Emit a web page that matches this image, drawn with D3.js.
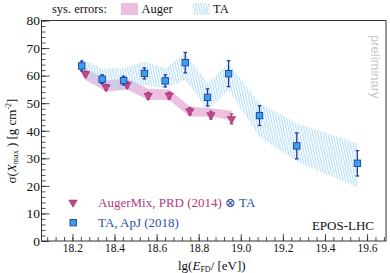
<!DOCTYPE html>
<html>
<head>
<meta charset="utf-8">
<script src="https://cdn.jsdelivr.net/npm/d3@7"></script>
<style>
  body { margin: 0; background: #fff; }
  text { font-family: "Liberation Serif", "DejaVu Serif", serif; }
</style>
</head>
<body>
<div id="chart"></div>
<script>
var width = 390,
  height = 273,
  plotLeft = 41.5,
  plotRight = 386,
  plotTop = 20.5,
  plotBottom = 241;

// TA, ApJ (2018)
var taLgE = [18.244, 18.341, 18.443, 18.542, 18.641, 18.736, 18.842, 18.942, 19.089, 19.266, 19.554];
var taSigma = [63.5, 58.7, 58.2, 60.8, 58.1, 64.7, 52.1, 60.7, 45.5, 34.5, 28.2];
var taStat = [1.8, 1.6, 1.6, 2.0, 2.2, 3.7, 3.1, 4.7, 3.6, 4.7, 4.6];
var taSysUp = [66.2, 62.5, 62.7, 65.1, 62.7, 68.1, 57.2, 64.5, 50.0, 42.7, 35.4];
var taSysLo = [60.3, 55.9, 54.6, 56.6, 55.4, 58.5, 47.5, 54.8, 37.8, 28.8, 19.5];

// AugerMix, PRD (2014) folded with TA
var augLgE = [18.262, 18.36, 18.46, 18.56, 18.66, 18.758, 18.858, 18.956];
var augSigma = [60.6, 55.8, 56.7, 52.7, 52.8, 47.1, 45.7, 44.3];
var augStat = [1.0, 1.0, 1.1, 1.2, 1.2, 1.3, 1.4, 1.8];
var augSysUp = [62.8, 58.3, 59.0, 55.2, 55.0, 48.8, 48.2, 47.3];
var augSysLo = [58.4, 54.2, 55.0, 51.2, 51.2, 45.1, 45.2, 43.8];

var xTicks = [18.2, 18.4, 18.6, 18.8, 19.0, 19.2, 19.4, 19.6];
var yTicks = [0, 10, 20, 30, 40, 50, 60, 70, 80];

var augColor = "#b23d7e",
  augFill = "#c4478d",
  taColor = "#1f3f96",
  taFill = "#39a0f0";

var svg = d3.select("#chart")
  .append("svg")
  .attr("width", width)
  .attr("height", height);

var defs = svg.append("defs");
var pat = defs.append("pattern")
  .attr("id", "hatch")
  .attr("patternUnits", "userSpaceOnUse")
  .attr("width", 2.5)
  .attr("height", 6)
  .attr("patternTransform", "rotate(-12)");
pat.append("line")
  .attr("x1", 0.6).attr("y1", 0)
  .attr("x2", 0.6).attr("y2", 6)
  .attr("stroke", "#abd9f8")
  .attr("stroke-width", 1);

var x = d3.scaleLinear().domain([18.053, 19.69]).range([plotLeft, plotRight]);
var y = d3.scaleLinear().domain([0, 80]).range([plotBottom, plotTop]);

// sys. bands
var augBand = augLgE.map(function (d, i) { return { x: d, hi: augSysUp[i], lo: augSysLo[i] }; });
var taBand = taLgE.map(function (d, i) { return { x: d, hi: taSysUp[i], lo: taSysLo[i] }; });

var area = d3.area()
  .x(function (d) { return x(d.x); })
  .y0(function (d) { return y(d.lo); })
  .y1(function (d) { return y(d.hi); });

svg.append("path")
  .datum(augBand)
  .attr("d", area)
  .attr("fill", "#edc0e1");

svg.append("path")
  .datum(taBand)
  .attr("d", area)
  .attr("fill", "url(#hatch)");

// axes
var xMinor = d3.range(18.08, 19.69, 0.04);
var yMinor = d3.range(0, 80.1, 2);

var g = svg.append("g");

g.append("g")
  .attr("transform", "translate(0," + plotBottom + ")")
  .call(d3.axisBottom(x).tickValues(xMinor).tickSize(-4).tickFormat(""))
  .call(function (s) { s.select(".domain").remove(); });

g.append("g")
  .attr("transform", "translate(0," + plotBottom + ")")
  .call(d3.axisBottom(x).tickValues(xTicks).tickSize(-7).tickPadding(3)
    .tickFormat(d3.format(".1f")))
  .call(function (s) {
    s.select(".domain").remove();
    s.selectAll("text").attr("font-size", "11.5px").attr("fill", "#111")
      .style("font-family", "Liberation Serif, serif");
  });

g.append("g")
  .attr("transform", "translate(" + plotLeft + ",0)")
  .call(d3.axisLeft(y).tickValues(yMinor).tickSize(-4).tickFormat(""))
  .call(function (s) { s.select(".domain").remove(); });

g.append("g")
  .attr("transform", "translate(" + plotLeft + ",0)")
  .call(d3.axisLeft(y).tickValues(yTicks).tickSize(-8).tickPadding(1.5))
  .call(function (s) {
    s.select(".domain").remove();
    s.selectAll("text").attr("font-size", "13.5px").attr("fill", "#111")
      .style("font-family", "Liberation Serif, serif");
  });

g.selectAll(".tick line").attr("stroke", "#222").attr("stroke-width", 0.8);

svg.append("rect")
  .attr("x", plotLeft).attr("y", plotTop)
  .attr("width", plotRight - plotLeft).attr("height", plotBottom - plotTop)
  .attr("fill", "none")
  .attr("stroke", "#333")
  .attr("stroke-width", 1);

// error bars
function bars(xs, ys, es, color) {
  var gb = svg.append("g").attr("stroke", color).attr("stroke-width", 1.3);
  gb.selectAll("line.v").data(xs).enter().append("line")
    .attr("x1", function (d) { return x(d); })
    .attr("x2", function (d) { return x(d); })
    .attr("y1", function (d, i) { return y(ys[i] - es[i]); })
    .attr("y2", function (d, i) { return y(ys[i] + es[i]); });
  [-1, 1].forEach(function (s) {
    gb.selectAll("line.c" + (s + 1)).data(xs).enter().append("line")
      .attr("x1", function (d) { return x(d) - 1.8; })
      .attr("x2", function (d) { return x(d) + 1.8; })
      .attr("y1", function (d, i) { return y(ys[i] + s * es[i]); })
      .attr("y2", function (d, i) { return y(ys[i] + s * es[i]); });
  });
}

bars(augLgE, augSigma, augStat, augColor);
bars(taLgE, taSigma, taStat, taColor);

var tri = d3.symbol().type(d3.symbolTriangle).size(30);

svg.append("g").selectAll("path").data(augLgE).enter().append("path")
  .attr("d", tri)
  .attr("transform", function (d, i) { return "translate(" + x(d) + "," + y(augSigma[i]) + ") rotate(180)"; })
  .attr("fill", augFill)
  .attr("stroke", "#8e2a63")
  .attr("stroke-width", 0.6);

svg.append("g").selectAll("rect").data(taLgE).enter().append("rect")
  .attr("x", function (d) { return x(d) - 3.2; })
  .attr("y", function (d, i) { return y(taSigma[i]) - 3.2; })
  .attr("width", 6.4).attr("height", 6.4)
  .attr("fill", taFill)
  .attr("stroke", taColor)
  .attr("stroke-width", 0.9);

// top legend
svg.append("text").attr("x", 52).attr("y", 13).attr("font-size", "12.5px").attr("fill", "#111")
  .text("sys. errors:");
svg.append("rect").attr("x", 121).attr("y", 3).attr("width", 17).attr("height", 12).attr("fill", "#edc0e1");
svg.append("text").attr("x", 141.5).attr("y", 13).attr("font-size", "12.5px").attr("fill", "#111")
  .text("Auger");
svg.append("rect").attr("x", 193).attr("y", 3).attr("width", 16.5).attr("height", 12).attr("fill", "url(#hatch)");
svg.append("text").attr("x", 213).attr("y", 13).attr("font-size", "12.5px").attr("fill", "#111")
  .text("TA");

// bottom legend
svg.append("path")
  .attr("d", tri)
  .attr("transform", "translate(73,202.5) rotate(180)")
  .attr("fill", augFill).attr("stroke", "#8e2a63").attr("stroke-width", 0.6);
var t1 = svg.append("text").attr("x", 98).attr("y", 206.5).attr("font-size", "13px");
t1.append("tspan").attr("fill", augColor).text("AugerMix, PRD (2014) ");
t1.append("tspan").attr("fill", "#2f50a8").text("⊗ TA");

svg.append("rect").attr("x", 70).attr("y", 219.5).attr("width", 6.4).attr("height", 6.4)
  .attr("fill", taFill).attr("stroke", taColor).attr("stroke-width", 0.9);
svg.append("text").attr("x", 98).attr("y", 227).attr("font-size", "13px").attr("fill", "#2f50a8")
  .text("TA, ApJ (2018)");

svg.append("text").attr("x", 374).attr("y", 230).attr("text-anchor", "end")
  .attr("font-size", "13px").attr("fill", "#111").text("EPOS-LHC");

svg.append("text")
  .attr("transform", "translate(371,35) rotate(90)")
  .attr("font-size", "13px")
  .attr("fill", "#c8c8c8")
  .style("font-family", "Liberation Sans, sans-serif")
  .text("preliminary");

// axis titles
var xt = svg.append("text").attr("x", 178).attr("y", 269.5).attr("font-size", "13px").attr("fill", "#111");
xt.append("tspan").text("lg(");
xt.append("tspan").attr("font-style", "italic").text("E");
xt.append("tspan").attr("font-size", "8px").attr("dy", 2.5).text("FD");
xt.append("tspan").attr("dy", -2.5).text("/ [eV])");

var yt = svg.append("text")
  .attr("transform", "translate(15.5,141) rotate(-90)")
  .attr("text-anchor", "middle")
  .attr("font-size", "13px").attr("fill", "#111");
yt.append("tspan").text("σ(");
yt.append("tspan").attr("font-style", "italic").text("X");
yt.append("tspan").attr("font-size", "8px").attr("dy", 2.5).text("max");
yt.append("tspan").attr("dy", -2.5).text(" ) [g cm");
yt.append("tspan").attr("font-size", "8px").attr("dy", -5).text("-2");
yt.append("tspan").attr("dy", 5).text("]");
</script>
</body>
</html>
